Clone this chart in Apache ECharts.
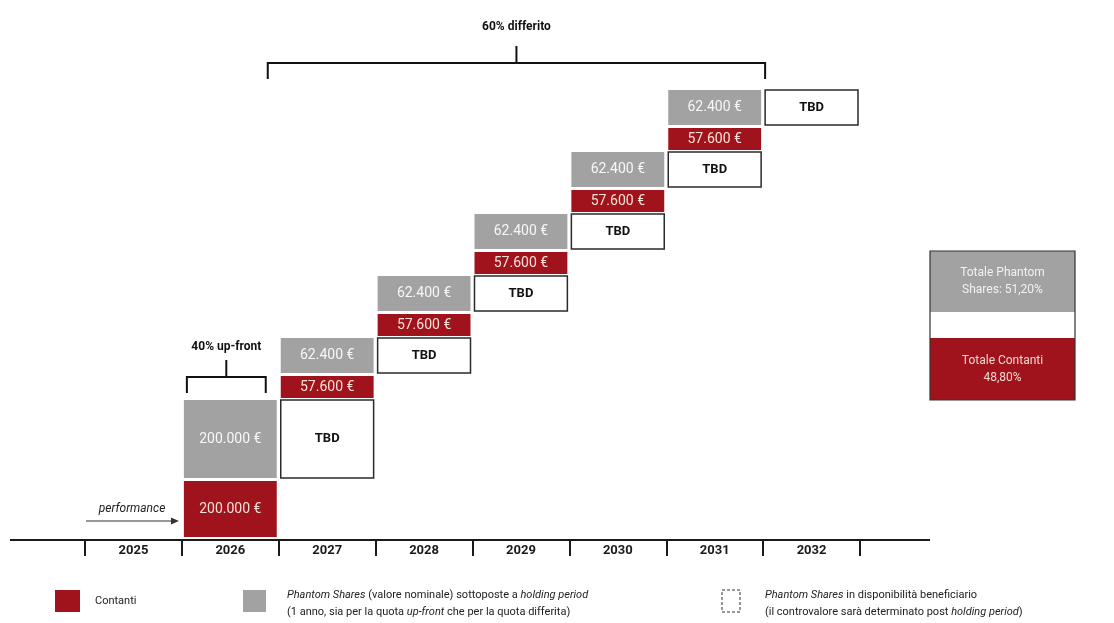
<!DOCTYPE html>
<html>
<head>
<meta charset="utf-8">
<script src="https://cdn.jsdelivr.net/npm/echarts@6/dist/echarts.min.js"></script>
<style>
  html, body { margin: 0; padding: 0; background: #ffffff; }
  #chart { width: 1114px; height: 623px; }
</style>
</head>
<body>
<div id="chart"></div>
<script>
// Payment schedule, one entry per year
const years = ['2025', '2026', '2027', '2028', '2029', '2030', '2031', '2032'];
// Cash paid out each year (€)
const cashValues = [null, 200000, 57600, 57600, 57600, 57600, 57600, null];
// Phantom Shares granted each year, nominal value (€)
const phantomValues = [null, 200000, 62400, 62400, 62400, 62400, 62400, null];
// Text shown on boxes whose value is only known after the holding period
const pendingLabel = 'TBD';
const upFrontLabel = '40% up-front';
const deferredLabel = '60% differito';

const RED = '#a0121c';
const GREY = '#a2a2a2';
const FONT = 'Roboto, "Liberation Sans", sans-serif';

function euro(v) {
  return v.toLocaleString('it-IT').replace(/,/g, '.') + ' €';
}

// Stack heights (y-axis units) for the staircase
const UPFRONT_CASH_H = 56, UPFRONT_PH_H = 78;
const CASH_H = 22, PH_H = 35, GAP = 3, BASE = 3;

// Build the staircase: each year's Phantom Shares become available (TBD box)
// one year later, at the same height, and the next grant sits on top of it.
const blocks = [];
let prev = null;
years.forEach((y, i) => {
  let base = BASE;
  if (prev) {
    blocks.push({ x: i, y0: prev[0], y1: prev[1], kind: 'tbd', text: pendingLabel });
    base = prev[1] + 2;
  }
  if (cashValues[i] != null) {
    const first = prev === null;
    const ch = first ? UPFRONT_CASH_H : CASH_H;
    const ph = first ? UPFRONT_PH_H : PH_H;
    blocks.push({ x: i, y0: base, y1: base + ch, kind: 'cash', text: euro(cashValues[i]) });
    const pb = base + ch + GAP;
    blocks.push({ x: i, y0: pb, y1: pb + ph, kind: 'phantom', text: euro(phantomValues[i]) });
    prev = [pb, pb + ph];
  } else {
    prev = null;
  }
});

const upFrontIndex = 1;
const deferredFirst = 2, deferredLast = 6;

function renderBlock(params, api) {
  const b = blocks[params.dataIndex];
  const bottom = api.coord([b.x, b.y0]);
  const top = api.coord([b.x, b.y1]);
  const bw = api.size([1, 0])[0];
  const x = bottom[0] - bw / 2 + 2;
  const w = bw - 4;
  const style = b.kind === 'cash'
    ? { fill: RED, stroke: null }
    : b.kind === 'phantom'
      ? { fill: GREY, stroke: null }
      : { fill: '#ffffff', stroke: '#2a2a2a', lineWidth: 1.5 };
  const textColor = b.kind === 'cash' ? '#f6e4da' : b.kind === 'phantom' ? '#f7f7f7' : '#111111';
  return {
    type: 'rect',
    shape: { x: x, y: top[1], width: w, height: bottom[1] - top[1] },
    style: style,
    textContent: {
      type: 'text',
      style: {
        text: b.text,
        fill: textColor,
        fontFamily: FONT,
        fontSize: b.kind === 'tbd' ? 13 : 14,
        fontWeight: b.kind === 'tbd' ? 'bold' : 'normal'
      }
    },
    textConfig: { position: 'inside' }
  };
}

// Curly-ish brackets above the up-front and deferred parts
const brackets = [
  { from: upFrontIndex, to: upFrontIndex, level: 163, padL: -5, padR: -13, text: upFrontLabel },
  { from: deferredFirst, to: deferredLast, level: 477, padL: 11, padR: 2, text: deferredLabel }
];

function renderBracket(params, api) {
  const br = brackets[params.dataIndex];
  const bw = api.size([1, 0])[0];
  const a = api.coord([br.from, br.level]);
  const c = api.coord([br.to, br.level]);
  const x0 = a[0] - bw / 2 - br.padL;
  const x1 = c[0] + bw / 2 + br.padR;
  const y = a[1];
  const xm = (x0 + x1) / 2;
  return {
    type: 'group',
    children: [
      { type: 'polyline', shape: { points: [[x0, y + 16], [x0, y], [x1, y], [x1, y + 16]] },
        style: { stroke: '#111', lineWidth: 2, fill: null } },
      { type: 'line', shape: { x1: xm, y1: y, x2: xm, y2: y - 17 },
        style: { stroke: '#111', lineWidth: 2 } },
      { type: 'text', x: xm, y: y - (br.from === br.to ? 30 : 36),
        style: { text: br.text, fill: '#111', fontFamily: FONT, fontSize: 12, fontWeight: 'bold',
                 align: 'center', verticalAlign: 'middle' } }
    ]
  };
}

const phantomTotal = phantomValues.reduce((s, v) => s + (v || 0), 0);
const cashTotal = cashValues.reduce((s, v) => s + (v || 0), 0);
const pct = v => (100 * v / (phantomTotal + cashTotal)).toFixed(2).replace('.', ',') + '%';

const chart = echarts.init(document.getElementById('chart'), null, { renderer: 'canvas' });
chart.setOption({
  animation: false,
  backgroundColor: '#ffffff',
  grid: { left: 85, right: 254, top: 0, bottom: 83, containLabel: false, outerBoundsMode: 'none' },
  xAxis: {
    type: 'category',
    data: years,
    boundaryGap: true,
    axisLine: { show: false },
    axisTick: { show: true, length: 16, lineStyle: { color: '#1a1a1a', width: 2 } },
    axisLabel: { color: '#1a1a1a', fontFamily: FONT, fontSize: 13, fontWeight: 'bold', margin: 4 },
    splitLine: { show: false }
  },
  yAxis: { type: 'value', min: 0, max: 540, show: false, splitLine: { show: false } },
  series: [
    { type: 'custom', name: 'blocks', renderItem: renderBlock,
      data: blocks.map(b => [b.x, b.y0, b.y1]), encode: { x: 0, y: [1, 2] }, clip: false },
    { type: 'custom', name: 'brackets', renderItem: renderBracket,
      data: brackets.map(b => [b.from, b.level]), encode: { x: 0, y: 1 }, clip: false }
  ],
  graphic: [
    // timeline
    { type: 'line', shape: { x1: 10, y1: 540, x2: 930, y2: 540 }, style: { stroke: '#1a1a1a', lineWidth: 2 }, z: 10 },
    // performance arrow
    { type: 'text', x: 132, y: 509, style: { text: 'performance', fontFamily: FONT, fontSize: 12, fontStyle: 'italic',
        fill: '#222', align: 'center', verticalAlign: 'middle' } },
    { type: 'line', shape: { x1: 86, y1: 521, x2: 172, y2: 521 }, style: { stroke: '#333', lineWidth: 1.2 } },
    { type: 'polygon', shape: { points: [[179, 521], [171, 517.5], [171, 524.5]] }, style: { fill: '#333' } },
    // totals box
    { type: 'group', x: 930, y: 251, children: [
      { type: 'rect', shape: { x: 0, y: 0, width: 145, height: 61 }, style: { fill: GREY } ,
        textContent: { type: 'text', style: { text: 'Totale Phantom\nShares: ' + pct(phantomTotal),
          fill: '#f2f2f2', fontFamily: FONT, fontSize: 12, align: 'center', lineHeight: 17 } },
        textConfig: { position: 'inside' } },
      { type: 'rect', shape: { x: 0, y: 87, width: 145, height: 62 }, style: { fill: RED },
        textContent: { type: 'text', style: { text: 'Totale Contanti\n' + pct(cashTotal),
          fill: '#f0d9d0', fontFamily: FONT, fontSize: 12, align: 'center', lineHeight: 17 } },
        textConfig: { position: 'inside' } },
      { type: 'rect', shape: { x: 0, y: 0, width: 145, height: 149 },
        style: { fill: null, stroke: '#333', lineWidth: 1.2 } }
    ] },
    // legend
    { type: 'rect', shape: { x: 55, y: 590, width: 25, height: 22 }, style: { fill: RED } },
    { type: 'text', x: 95, y: 601, style: { text: 'Contanti', fontFamily: FONT, fontSize: 11, fill: '#222',
        verticalAlign: 'middle' } },
    { type: 'rect', shape: { x: 243, y: 590, width: 23, height: 22 }, style: { fill: GREY } },
    { type: 'text', x: 287, y: 604, style: {
        text: '{i|Phantom Shares} (valore nominale) sottoposte a {i|holding period}\n(1 anno, sia per la quota {i|up-front} che per la quota differita)',
        fontFamily: FONT, fontSize: 11, fill: '#222', lineHeight: 17, verticalAlign: 'middle',
        rich: { i: { fontStyle: 'italic', fontFamily: FONT, fontSize: 11, fill: '#222' } } } },
    { type: 'rect', shape: { x: 722, y: 590, width: 18, height: 22 },
      style: { fill: '#fff', stroke: '#333', lineWidth: 1, lineDash: [3, 2] } },
    { type: 'text', x: 765, y: 604, style: {
        text: '{i|Phantom Shares} in disponibilità beneficiario\n(il controvalore sarà determinato post {i|holding period})',
        fontFamily: FONT, fontSize: 11, fill: '#222', lineHeight: 17, verticalAlign: 'middle',
        rich: { i: { fontStyle: 'italic', fontFamily: FONT, fontSize: 11, fill: '#222' } } } }
  ]
});
</script>
</body>
</html>
